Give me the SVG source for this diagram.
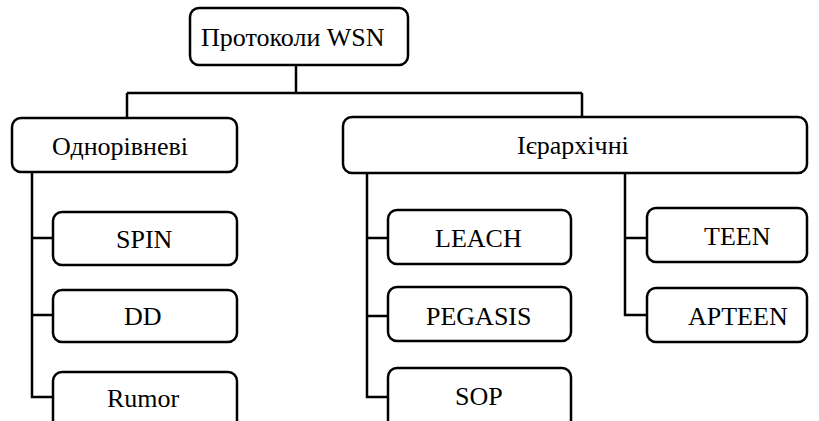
<svg xmlns="http://www.w3.org/2000/svg" width="819" height="421" viewBox="0 0 819 421">
<style>
.box{fill:#fff;stroke:#000;stroke-width:2.5}
.con{fill:none;stroke:#000;stroke-width:2.5}
</style>
<rect width="819" height="421" fill="#fff"/>
<g id="connectors" class="con">
<path d="M296,65 V93 M127,93 H582 M127,93 V118 M582,93 V117"/>
<path d="M32,172 V397 H53 M32,238 H53 M32,315 H53"/>
<path d="M367,173 V397 H388 M367,238 H388 M367,316 H388"/>
<path d="M625,173 V315 H647 M625,238 H647"/>
</g>
<g id="root"><rect class="box" x="190" y="8" width="218" height="57" rx="9"/><text x="201" y="46" font-family="Liberation Serif" font-size="26">Протоколи WSN</text></g>
<g id="flat"><rect class="box" x="12" y="118" width="225" height="54" rx="9"/><text x="52" y="155" font-family="Liberation Serif" font-size="26">Однорівневі</text></g>
<g id="hier"><rect class="box" x="343" y="117" width="464" height="56" rx="9"/><text x="517" y="154" font-family="Liberation Serif" font-size="26">Ієрархічні</text></g>
<g id="spin"><rect class="box" x="53" y="212" width="184" height="53" rx="9"/><text x="116" y="248" font-family="Liberation Serif" font-size="26">SPIN</text></g>
<g id="dd"><rect class="box" x="53" y="290" width="184" height="52" rx="9"/><text x="124" y="325" font-family="Liberation Serif" font-size="26">DD</text></g>
<g id="rumor"><rect class="box" x="53" y="372" width="184" height="60" rx="9"/><text x="107" y="407" font-family="Liberation Serif" font-size="26">Rumor</text></g>
<g id="leach"><rect class="box" x="388" y="210" width="183" height="54" rx="9"/><text x="435" y="247" font-family="Liberation Serif" font-size="26">LEACH</text></g>
<g id="pegasis"><rect class="box" x="388" y="287" width="183" height="54" rx="9"/><text x="426" y="325" font-family="Liberation Serif" font-size="26">PEGASIS</text></g>
<g id="sop"><rect class="box" x="388" y="368" width="183" height="64" rx="9"/><text x="455" y="405" font-family="Liberation Serif" font-size="26">SOP</text></g>
<g id="teen"><rect class="box" x="647" y="208" width="160" height="54" rx="9"/><text x="704" y="245" font-family="Liberation Serif" font-size="26">TEEN</text></g>
<g id="apteen"><rect class="box" x="647" y="288" width="160" height="54" rx="9"/><text x="688" y="325" font-family="Liberation Serif" font-size="26">APTEEN</text></g>
</svg>
